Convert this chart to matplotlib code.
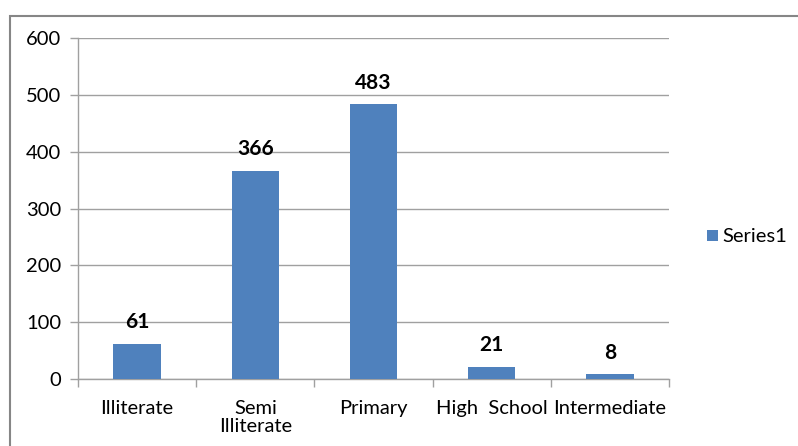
import matplotlib
matplotlib.use("Agg")
import matplotlib.pyplot as plt
from matplotlib.patches import Rectangle

categories = ["Illiterate", "Semi\nIlliterate", "Primary", "High  School", "Intermediate"]
values = [61, 366, 483, 21, 8]
yticks = [0, 100, 200, 300, 400, 500, 600]

plt.rcParams['font.family'] = ['Lato', 'DejaVu Sans']

W, H = 798, 446
fig = plt.figure(figsize=(W / 100, H / 100), dpi=100)

# outer chart frame
fig.patches.append(Rectangle((10 / W, -0.1), 1.2, (H - 16) / H + 0.1,
                             transform=fig.transFigure, fill=False,
                             edgecolor="#868686", linewidth=1.5))

ax = fig.add_axes([78 / W, (H - 379) / H, (669 - 78) / W, (379 - 38) / H])
bar_color = "#4F81BD"
x = list(range(len(categories)))
ax.bar(x, values, width=0.4, color=bar_color, zorder=3)
for xi, v in zip(x, values):
    ax.text(xi, v + 21, str(v), ha="center", va="bottom",
            fontsize=15, fontweight="bold", color="black")

ax.set_xlim(-0.5, len(categories) - 0.5)
ax.set_ylim(0, 600)
ax.set_yticks(yticks)
ax.set_yticklabels([str(t) for t in yticks], fontsize=14.5)
ax.grid(axis="y", color="#A0A0A0", linewidth=1, zorder=0)

ax.set_xticks(x)
ax.set_xticklabels(categories, fontsize=14.5, linespacing=1.05)
ax.set_xticks([i - 0.5 for i in range(len(categories) + 1)], minor=True)
ax.tick_params(axis="x", which="major", length=0, pad=15)
ax.tick_params(axis="x", which="minor", length=6, color="#A0A0A0", width=1)
ax.tick_params(axis="y", length=6, color="#A0A0A0", width=1, pad=6)

for side in ["top", "right"]:
    ax.spines[side].set_visible(False)
for side in ["left", "bottom"]:
    ax.spines[side].set_color("#A0A0A0")
    ax.spines[side].set_linewidth(1)

# legend
fig.patches.append(Rectangle((707 / W, (H - 241) / H), 11 / W, 11 / H,
                             transform=fig.transFigure, facecolor=bar_color,
                             edgecolor="none"))
fig.text(722 / W, (H - 236) / H, "Series1", fontsize=14.5, va="center", ha="left")

fig.savefig("out.png", dpi=100)
